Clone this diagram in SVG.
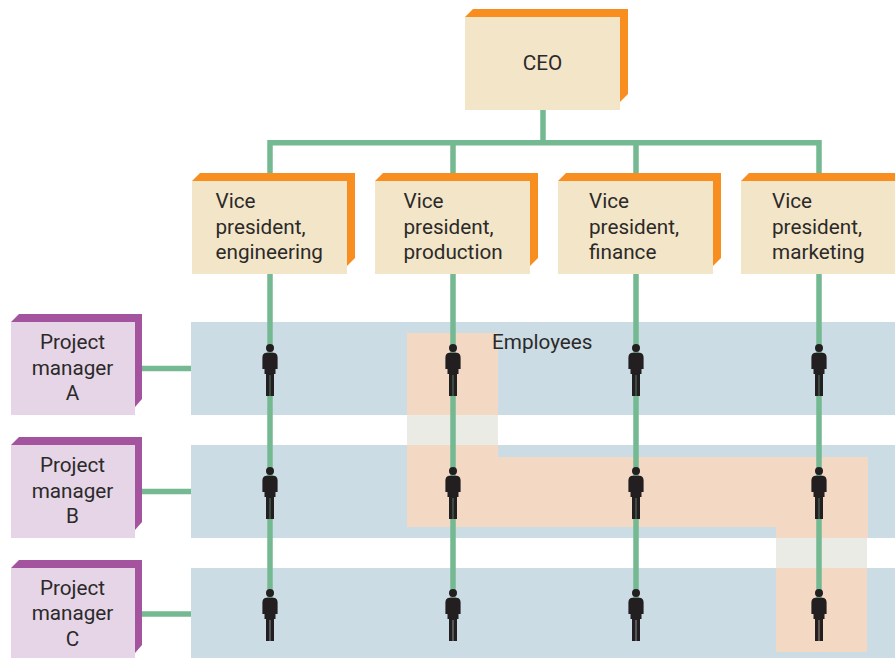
<svg xmlns="http://www.w3.org/2000/svg" xmlns:xlink="http://www.w3.org/1999/xlink" width="895" height="658" viewBox="0 0 895 658">
<style>
text{font-family:"Roboto","Liberation Sans",sans-serif;font-size:20.700px;fill:#2b2a29}
.mid{text-anchor:middle}
.band{fill:#ccdce4}
.peach{fill:#f3d9c3}
.fade{fill:#ebebe5}
.conn{stroke:#74b991;stroke-width:5.500;fill:none}
.vpf{fill:#f3e5c8}
.vps{fill:#f88d20}
.pmf{fill:#e6d4e7}
.pms{fill:#a4539f}
</style>
<defs>
<g id="person">
<circle cx="0" cy="0" r="4" fill="#231f20"/>
<path d="M-4 4.700H4Q7.600 5.200 7.600 9.500V21H5.500V26H4V48H0.300V27H-0.300V48H-4V26H-5.500V21H-7.600V9.500Q-7.600 5.200 -4 4.700Z" fill="#231f20"/>
</g>
<g id="vpbox">
<path class="vps" d="M0 8L8 0H163V85L155 93H0Z"/>
<rect class="vpf" width="155" height="93" y="8"/>
</g>
<g id="pmbox">
<path class="pms" d="M0 8L8 0H131V85L124 93H0Z"/>
<rect class="pmf" width="124" height="93" y="8"/>
</g>
</defs>
<g id="bands">
<rect class="band" x="191" y="322" width="704" height="93"/>
<rect class="band" x="191" y="445" width="704" height="93"/>
<rect class="band" x="191" y="568" width="704" height="90"/>
<path class="peach" d="M407 333H498V415H407Z"/>
<rect class="fade" x="407" y="415" width="91" height="30"/>
<path class="peach" d="M407 445H498V457H868V538H776V527H407Z"/>
<rect class="fade" x="776" y="538" width="91" height="30"/>
<rect class="peach" x="776" y="568" width="91" height="84"/>
</g>
<g id="connectors">
<path class="conn" d="M543 110V143M270 181V142.700H819V181M453 143V181M636 143V181"/>
<path class="conn" d="M270 274V615M453 274V615M636 274V615M819 274V615"/>
<path class="conn" d="M142 368.500H191M142 491.500H191M142 614H191"/>
</g>
<g id="people">
<use href="#person" x="270" y="348"/><use href="#person" x="453" y="348"/><use href="#person" x="636" y="348"/><use href="#person" x="819" y="348"/>
<use href="#person" x="270" y="471"/><use href="#person" x="453" y="471"/><use href="#person" x="636" y="471"/><use href="#person" x="819" y="471"/>
<use href="#person" x="270" y="593"/><use href="#person" x="453" y="593"/><use href="#person" x="636" y="593"/><use href="#person" x="819" y="593"/>
</g>
<g id="ceo">
<use href="#vpbox" x="465" y="9"/>
<text class="mid" x="542.500" y="70">CEO</text>
</g>
<g id="vp-engineering">
<use href="#vpbox" x="192" y="173"/>
<text x="215.500" y="208">Vice</text><text x="215.500" y="233.500">president,</text><text x="215.500" y="259">engineering</text>
</g>
<g id="vp-production">
<use href="#vpbox" x="375" y="173"/>
<text x="403.500" y="208">Vice</text><text x="403.500" y="233.500">president,</text><text x="403.500" y="259">production</text>
</g>
<g id="vp-finance">
<use href="#vpbox" x="558" y="173"/>
<text x="589" y="208">Vice</text><text x="589" y="233.500">president,</text><text x="589" y="259">finance</text>
</g>
<g id="vp-marketing">
<use href="#vpbox" x="741" y="173"/>
<text x="772" y="208">Vice</text><text x="772" y="233.500">president,</text><text x="772" y="259">marketing</text>
</g>
<g id="pm-a">
<use href="#pmbox" x="11" y="314"/>
<text class="mid" x="72.500" y="349">Project</text><text class="mid" x="72.500" y="375">manager</text><text class="mid" x="72.500" y="400">A</text>
</g>
<g id="pm-b">
<use href="#pmbox" x="11" y="437"/>
<text class="mid" x="72.500" y="472">Project</text><text class="mid" x="72.500" y="498">manager</text><text class="mid" x="72.500" y="523">B</text>
</g>
<g id="pm-c">
<use href="#pmbox" x="11" y="560"/>
<text class="mid" x="72.500" y="595">Project</text><text class="mid" x="72.500" y="620">manager</text><text class="mid" x="72.500" y="646">C</text>
</g>
<text id="employees" x="492" y="349">Employees</text>
</svg>
